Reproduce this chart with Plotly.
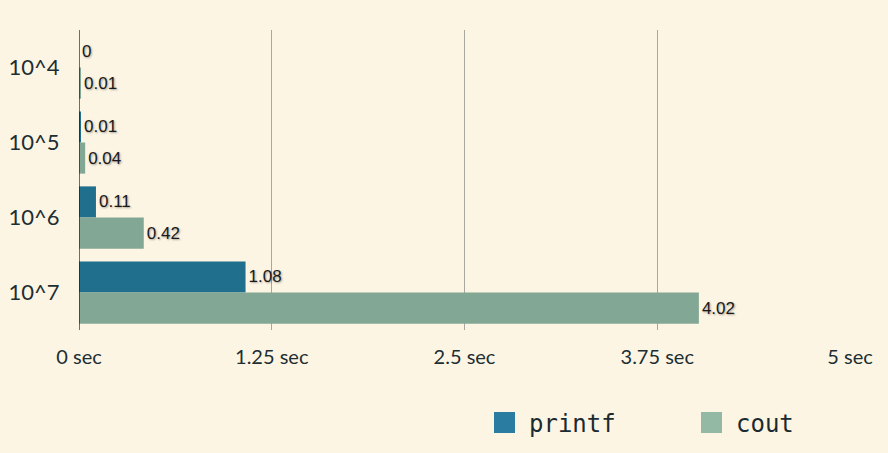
import plotly.graph_objects as go

categories = ["10^4", "10^5", "10^6", "10^7"]
printf_vals = [0.0, 0.01, 0.11, 1.08]
cout_vals = [0.01, 0.04, 0.42, 4.02]
printf_labels = ["0", "0.01", "0.11", "1.08"]
cout_labels = ["0.01", "0.04", "0.42", "4.02"]
tick_vals = [0, 1.25, 2.5, 3.75, 5]
tick_text = ["0 sec", "1.25 sec", "2.5 sec", "3.75 sec", "5 sec"]

BG = "#fdf5e3"
C_PRINTF = "#1f6f8d"
C_COUT = "#82a794"
label_font = dict(family="Liberation Sans, Arial, sans-serif", size=17, color="#1a1a1a",
                  shadow="1px 1px 2px rgba(0,0,0,0.35)")
legend_font = dict(family="DejaVu Sans Mono, monospace", size=24, color="#1a2a30")

fig = go.Figure()
fig.add_trace(go.Bar(y=categories, x=printf_vals, orientation="h", name="printf",
                     marker=dict(color=C_PRINTF, line=dict(width=0)),
                     text=printf_labels, textposition="outside", textfont=label_font,
                     cliponaxis=False, showlegend=False))
fig.add_trace(go.Bar(y=categories, x=cout_vals, orientation="h", name="cout",
                     marker=dict(color=C_COUT, line=dict(width=0)),
                     text=cout_labels, textposition="outside", textfont=label_font,
                     cliponaxis=False, showlegend=False))
# legend entries with larger square swatches
fig.add_trace(go.Scatter(x=[None], y=[None], mode="markers", name="printf", legend="legend",
                         marker=dict(symbol="square", size=16, color="#2a7ca0",
                                     line=dict(color="#2a7ca0", width=6))))
fig.add_trace(go.Scatter(x=[None], y=[None], mode="markers", name="cout", legend="legend2",
                         marker=dict(symbol="square", size=16, color="#93b8a3",
                                     line=dict(color="#93b8a3", width=6))))

leg_common = dict(orientation="h", yref="container", xref="container",
                  yanchor="middle", y=1 - 423 / 453, xanchor="left",
                  font=legend_font, bgcolor="rgba(0,0,0,0)", itemwidth=39)

fig.update_layout(
    width=888, height=453,
    paper_bgcolor=BG, plot_bgcolor=BG,
    margin=dict(l=79, r=38, t=30, b=123),
    barmode="group", bargap=0.17, bargroupgap=0,
    legend=dict(x=480 / 888, **leg_common),
    legend2=dict(x=687 / 888, **leg_common),
    xaxis=dict(range=[0, 5], tickvals=tick_vals, ticktext=tick_text,
               showgrid=True, gridcolor="#a8a8a0", gridwidth=1,
               zeroline=False, showline=False, automargin=False,
               ticks="outside", ticklen=9, tickcolor=BG,
               tickfont=dict(family="Lato, sans-serif", size=20, color="#1b2e33")),
    yaxis=dict(autorange="reversed", showgrid=False, zeroline=False,
               showline=False, automargin=False, ticks="outside", ticklen=14, tickcolor=BG,
               tickfont=dict(family="Lato, sans-serif", size=22, color="#1b2e33")),
    shapes=[dict(type="line", xref="x", yref="paper", x0=0, x1=0, y0=0, y1=1,
                 line=dict(color="#111111", width=1.2))],
)

fig.write_html("out.html", config={"displayModeBar": False},
               post_script="document.body.style.margin='0';")
